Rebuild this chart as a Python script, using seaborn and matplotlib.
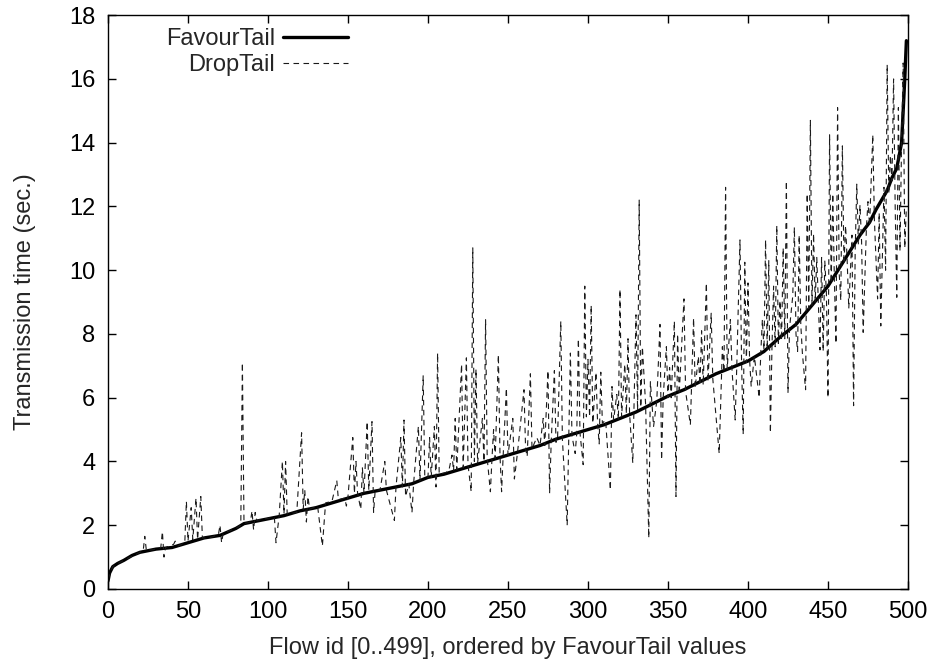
import matplotlib
matplotlib.use("Agg")
import matplotlib.pyplot as plt
import seaborn as sns
import pandas as pd

# FavourTail: smooth sorted curve (flow id, seconds)
ft_flow = [0, 1, 3, 6, 10, 15, 20, 25, 30, 40, 50, 60, 70, 80, 85, 90,
           100, 110, 120, 130, 140, 150, 160, 170, 180, 190, 200, 210, 220, 230, 240, 250,
           260, 270, 280, 290, 300, 310, 320, 330, 340, 350, 360, 370, 380, 390, 400, 410,
           420, 430, 440, 450, 460, 470, 476, 480, 487, 490, 493, 496, 498, 499]
ft_time = [0.25, 0.5, 0.7, 0.8, 0.9, 1.05, 1.15, 1.2, 1.25, 1.3, 1.45, 1.6, 1.68, 1.9, 2.05, 2.1,
           2.2, 2.3, 2.45, 2.55, 2.7, 2.85, 3.0, 3.1, 3.2, 3.3, 3.5, 3.6, 3.75, 3.9, 4.05, 4.2,
           4.35, 4.5, 4.7, 4.85, 5.0, 5.15, 5.35, 5.55, 5.8, 6.05, 6.25, 6.5, 6.75, 6.95, 7.15, 7.45,
           7.9, 8.3, 8.9, 9.5, 10.3, 11.1, 11.5, 11.9, 12.5, 12.9, 13.2, 14.0, 16.0, 17.2]

# DropTail: same flows
dt_flow = [0, 3, 8, 14, 20, 22, 23, 24, 30, 33, 34, 35, 36, 41, 42, 44, 48, 49, 50, 52, 53, 55, 56, 58, 59,
           63, 69, 70, 71, 72, 80, 83, 84, 85, 89, 90, 91, 92, 93, 104, 105, 107, 109, 110, 111, 112,
           118, 121, 122, 123, 124, 125, 126, 131, 134, 136, 140, 143, 144, 148, 149, 150, 153, 154,
           155, 156, 158, 159, 160, 162, 163, 165, 166, 167,
           170, 173, 174, 179, 180, 183, 184, 185, 186, 188, 190, 191, 194, 195, 197, 198, 200, 201,
           202, 204, 205, 206, 207, 211, 213, 215, 216, 217, 218, 221, 222, 224, 225, 227,
           228, 229, 230, 231, 234, 235, 236, 237, 239, 240, 241, 242, 244, 245, 246, 247, 249, 250,
           253, 254, 256,
           260, 261, 262, 264, 265, 268, 270, 272, 273, 275, 276, 277, 279, 280, 281, 283, 284, 287,
           288, 289, 290, 292, 293, 294, 295, 297, 298, 299, 300,
           301, 302, 303, 305, 306, 307, 308, 309, 311, 314, 315, 316, 318, 319, 320, 321, 323, 324,
           325, 326, 328, 330, 331, 332, 333, 334, 336, 338, 339, 341,
           343, 345, 346, 347, 349, 350, 351, 352, 354, 355, 356, 357, 360, 361, 364, 366, 367, 369,
           370, 371, 372, 374, 375, 377, 378, 382, 384, 385,
           386, 387, 389, 390, 392, 393, 395, 396, 397, 398, 399, 400, 401, 402, 404, 407, 408, 409,
           410, 411, 412, 413, 414, 415, 416, 417, 418, 419, 420, 421, 422, 423,
           424, 425, 426, 428, 429, 430, 431, 432, 433, 434, 436, 437, 438, 439, 440, 441, 442, 443,
           445, 446, 447, 448, 449, 450, 451, 452, 453, 454, 455, 456, 457, 458, 459, 460,
           461, 462, 463, 465, 466, 467, 468, 469, 470, 471, 472, 474, 475, 476, 478, 479, 481, 482,
           483, 485, 486, 487, 488, 489, 490, 491, 492, 493, 494, 495, 496, 497, 498, 499]
dt_time = [0.3, 0.7, 0.85, 1.0, 1.15, 1.2, 1.65, 1.2, 1.25, 1.3, 1.8, 1.0, 1.3, 1.4, 1.5, 1.35, 1.45, 2.75, 1.5, 2.55, 1.55, 2.85, 1.55, 2.9, 1.6,
           1.6, 1.7, 2.0, 1.45, 1.75, 1.9, 2.0, 7.1, 2.05, 2.1, 2.45, 1.85, 2.4, 2.15, 2.25, 1.45, 2.3, 4.0, 2.35, 4.0, 2.35,
           2.4, 4.9, 2.5, 3.1, 2.1, 2.9, 2.5, 2.6, 1.35, 2.7, 2.75, 3.4, 2.8, 2.85, 2.6, 2.9, 4.75, 3.0,
           4.0, 3.0, 2.5, 3.8, 3.0, 5.25, 3.1, 5.25, 2.4, 3.1,
           3.1, 4.0, 3.1, 2.15, 3.2, 4.75, 3.2, 5.3, 2.9, 3.3, 2.4, 3.3, 5.1, 3.4, 6.7, 3.5, 3.5, 4.75,
           3.5, 5.1, 3.2, 7.4, 3.6, 3.65, 3.7, 4.2, 3.7, 5.35, 3.75, 7.05, 3.8, 7.25, 3.9, 3.05,
           10.7, 4.0, 6.9, 3.95, 5.35, 4.0, 8.45, 4.1, 3.05, 4.1, 5.0, 4.1, 7.35, 4.2, 3.05, 4.2, 6.3, 4.2,
           5.35, 3.45, 4.3,
           6.25, 4.4, 4.15, 6.75, 4.4, 4.75, 4.5, 5.35, 4.5, 6.85, 3.0, 4.6, 6.85, 4.6, 4.75, 8.4, 4.7, 2.0,
           4.8, 7.4, 4.8, 4.25, 4.9, 7.85, 4.9, 3.9, 9.5, 5.4, 7.2,
           5.4, 8.9, 5.2, 6.8, 5.2, 4.55, 6.8, 5.2, 5.3, 3.1, 6.35, 5.3, 6.1, 5.3, 9.4, 5.4, 7.05, 5.5,
           7.85, 5.5, 3.95, 8.6, 5.6, 12.2, 5.7, 7.6, 5.8, 1.6, 6.5, 5.1,
           5.9, 8.3, 4.05, 6.0, 7.6, 6.0, 6.95, 6.0, 8.4, 2.9, 8.0, 6.1, 9.1, 6.2, 5.15, 8.5, 6.3, 7.3,
           6.4, 8.1, 6.4, 9.6, 6.5, 8.65, 6.6, 4.25, 7.6, 6.8,
           12.6, 6.9, 8.45, 6.9, 5.3, 7.0, 10.95, 7.1, 4.85, 10.25, 7.1, 9.6, 7.2, 6.35, 7.3, 6.0, 7.4, 8.45,
           7.5, 10.95, 7.5, 10.3, 4.9, 7.6, 9.5, 7.6, 11.4, 7.7, 9.05, 7.8, 10.7, 7.85,
           12.8, 6.15, 8.2, 9.2, 11.35, 8.0, 7.45, 11.1, 8.3, 7.4, 6.25, 12.4, 8.8, 14.7, 8.9, 11.15, 9.0, 10.4,
           7.5, 10.4, 7.45, 10.3, 9.3, 6.0, 14.25, 9.6, 12.4, 9.7, 7.7, 15.1, 9.9, 9.05, 13.9, 10.2,
           11.4, 10.3, 8.8, 11.1, 5.75, 10.6, 12.7, 10.8, 12.05, 10.9, 8.05, 11.3, 12.15, 11.4, 14.25, 11.6, 9.1, 11.8,
           8.25, 12.6, 10.0, 16.45, 12.4, 13.6, 12.8, 16.0, 12.0, 9.15, 15.1, 10.6, 14.0, 16.5, 10.7, 12.0]

assert len(ft_flow) == len(ft_time)
assert len(dt_flow) == len(dt_time)

x_ticks = list(range(0, 501, 50))
y_ticks = list(range(0, 19, 2))

ft = pd.DataFrame({"flow": ft_flow, "time": ft_time})
dt = pd.DataFrame({"flow": dt_flow, "time": dt_time})

sns.set_style("ticks")
plt.rcParams["font.family"] = ["Liberation Sans", "DejaVu Sans"]

fig = plt.figure(figsize=(9.35, 6.61), dpi=100)
ax = fig.add_axes([0.1155, 0.109, 0.8556, 0.868])

sns.lineplot(data=ft, x="flow", y="time", ax=ax, color="black", linewidth=2.4,
             estimator=None, sort=False, label="FavourTail")
sns.lineplot(data=dt, x="flow", y="time", ax=ax, color="#1a1a1a", linewidth=0.8,
             estimator=None, sort=False, label="DropTail", dashes=False)
ax.lines[1].set_dashes((5, 4))

ax.set_xlim(0, 500)
ax.set_ylim(0, 18)
ax.set_xticks(x_ticks)
ax.set_yticks(y_ticks)
ax.tick_params(direction="in", length=6, width=1, top=True, right=True,
               labelsize=17, colors="black")
ax.tick_params(axis="x", pad=9)
ax.tick_params(axis="y", pad=9)
for s in ax.spines.values():
    s.set_linewidth(1.0)
    s.set_color("black")

ax.set_xlabel("Flow id [0..499], ordered by FavourTail values", fontsize=17, labelpad=10)
ax.set_ylabel("Transmission time (sec.)", fontsize=17, labelpad=24)

leg = ax.legend(loc="upper right", bbox_to_anchor=(0.30, 0.977), frameon=False,
                markerfirst=False, handlelength=2.75, handletextpad=0.35,
                borderpad=0, borderaxespad=0, fontsize=17, labelspacing=0.15)
for line in leg.get_lines():
    if line.get_label() == "DropTail":
        line.set_dashes((5, 4))

fig.savefig("out.png", dpi=100, facecolor="white")
